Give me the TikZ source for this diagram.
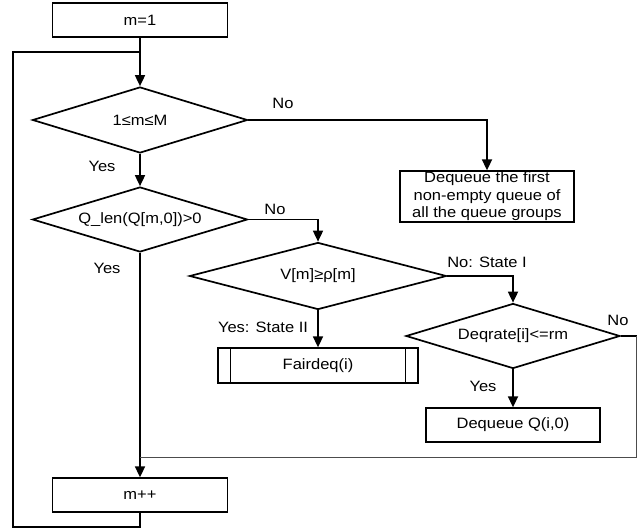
\documentclass[tikz,border=0pt]{standalone}
\usepackage{fontspec}
\setmainfont{Liberation Sans}[FakeStretch=1.1]
\usetikzlibrary{shapes.geometric,arrows.meta}

\begin{document}
\begin{tikzpicture}[x=1bp,y=-1bp,
    font=\fontsize{15bp}{17.5bp}\selectfont,
    box/.style={draw,line width=1.3bp,inner sep=0pt,align=center},
    decision/.style={draw,diamond,line width=1.7bp,inner sep=0pt,aspect=3.3},
    line/.style={line width=1.7bp},
    arr/.style={line width=1.7bp,-{Triangle[length=11bp,width=10bp]}},
    lbl/.style={inner sep=0pt}]
    \useasboundingbox (0,0) rectangle (637,531);

    \node[box,minimum width=175bp,minimum height=34bp] (m1) at (140,20) {m=1};
    \node[decision,minimum width=215bp,minimum height=66bp] (d1) at (140,120) {1≤m≤M};
    \node[box,minimum width=174bp,minimum height=51bp] (deq1) at (487,196.5) {Dequeue the first\\non-empty queue of\\all the queue groups};
    \node[decision,minimum width=215bp,minimum height=65bp] (d2) at (140,219.5) {Q\_len(Q[m,0])>0};
    \node[decision,minimum width=257bp,minimum height=67bp] (d3) at (318,276) {V[m]≥ρ[m]};
    \node[decision,minimum width=214bp,minimum height=65bp] (d4) at (513,336) {Deqrate[i]<=rm};
    \node[box,minimum width=200bp,minimum height=35bp] (fair) at (318,365.5) {Fairdeq(i)};
    \draw[line width=1.3bp] ([xshift=13bp]fair.north west) -- ([xshift=13bp]fair.south west);
    \draw[line width=1.3bp] ([xshift=-13bp]fair.north east) -- ([xshift=-13bp]fair.south east);
    \node[box,minimum width=174bp,minimum height=34bp] (deq2) at (513,425) {Dequeue Q(i,0)};
    \node[box,minimum width=175bp,minimum height=34bp] (mpp) at (140,495) {m++};

    \node[lbl] (no1) at (283,103) {No};
    \node[lbl] (yes1) at (102,166) {Yes};
    \node[lbl] (no2) at (275,209) {No};
    \node[lbl] (yes2) at (107,268) {Yes};
    \node[lbl] (no3) at (487,262) {No: State I};
    \node[lbl] (yes3) at (263,327) {Yes: State II};
    \node[lbl] (no4) at (618,320) {No};
    \node[lbl] (yes4) at (483,386) {Yes};

    \coordinate (join) at (140,52);
    \coordinate (bl) at (13,527);
    \coordinate (tl) at (13,52);
    \coordinate (re) at (636.5,336);
    \coordinate (rb) at (636.5,457);
    \coordinate (back) at (140,457);

    \draw[arr] (m1) -- (d1);
    \draw[arr] (d1.east) -| (deq1.north);
    \draw[arr] (d1) -- (d2);
    \draw[arr] (d2.east) -| (d3.north);
    \draw[arr] (d2) -- (mpp);
    \draw[arr] (d3.east) -| (d4.north);
    \draw[arr] (d3) -- (fair);
    \draw[arr] (d4) -- (deq2);
    \draw[line] (d4.east) -- (re);
    \draw[line width=1bp,black!70] (re) -- (rb) -- (back);
    \draw[line] (mpp.south) |- (bl) -- (tl) -- (join);
\end{tikzpicture}
\end{document}
